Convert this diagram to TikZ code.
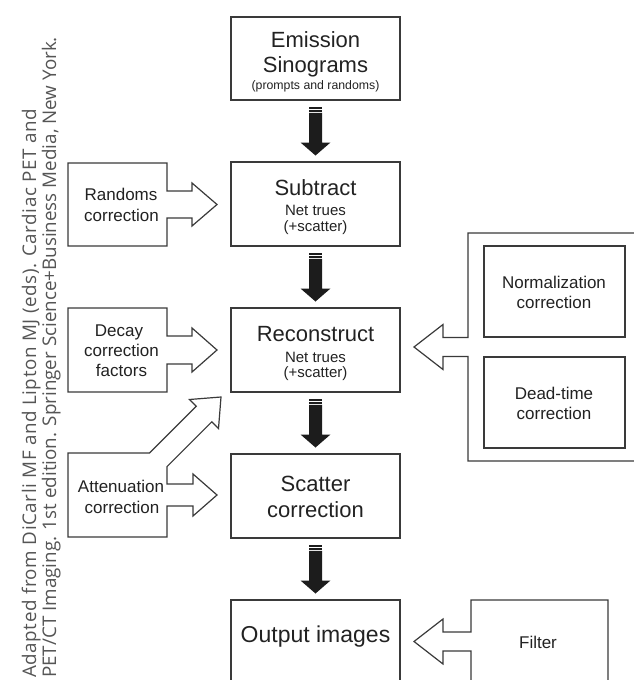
\documentclass[tikz,border=0pt]{standalone}
\usepackage{fontspec}
\setmainfont{Liberation Sans}
\newfontfamily\creditfont{Open Sans}
\newfontfamily\creditwide{Open Sans}[LetterSpace=3]
\usetikzlibrary{calc}

\definecolor{linegray}{HTML}{3A3A3A}
\definecolor{textgray}{HTML}{222222}
\definecolor{arrowblack}{HTML}{1C1C1C}
\definecolor{creditgray}{HTML}{555555}

\tikzset{
  box/.style={draw=linegray, line width=1.2pt, inner sep=0pt, outer sep=0pt,
              minimum width=169pt, minimum height=84pt},
  ghost/.style={inner sep=0pt, outer sep=0pt},
  outl/.style={draw=linegray, line width=1.2pt, line join=miter, fill=white},
  big/.style={font=\fontsize{22}{26}\selectfont, text=textgray, inner sep=0pt, anchor=base},
  huge/.style={font=\fontsize{23}{27}\selectfont, text=textgray, inner sep=0pt, anchor=base},
  mid/.style={font=\fontsize{15}{18}\selectfont, text=textgray, inner sep=0pt, anchor=base},
  sml/.style={font=\fontsize{12.3}{15}\selectfont, text=textgray, inner sep=0pt, anchor=base},
  side/.style={font=\fontsize{17}{20}\selectfont, text=textgray, inner sep=0pt, anchor=base},
  credit/.style={font=\creditfont\fontsize{18.8}{20}\selectfont, text=creditgray,
                 inner sep=0pt, anchor=base west, rotate=90},
}

% solid black arrow with a striped tail, from the bottom of #1 to the top of #2
\newcommand\blkarrow[2]{%
  \path (#1.south) ++(0,6.5) coordinate (#1-tail);
  \path (#2.north) ++(0,-6.5) coordinate (#2-tip);
  \fill[arrowblack] ($(#1-tail)+(-6.5,0)$) rectangle ($(#1-tail)+(6.5,2.2)$);
  \fill[arrowblack] ($(#1-tail)+(-6.5,3.3)$) rectangle ($(#1-tail)+(6.5,5.4)$);
  \fill[arrowblack] ($(#1-tail)+(-6.5,6.4)$) -- ($(#2-tip)+(-6.5,-13)$)
     -- ($(#2-tip)+(-15,-13)$) -- (#2-tip) -- ($(#2-tip)+(15,-13)$)
     -- ($(#2-tip)+(6.5,-13)$) -- ($(#1-tail)+(6.5,6.4)$) -- cycle;
}

\begin{document}
\begin{tikzpicture}[x=1pt,y=-1pt]
\useasboundingbox (0,0) rectangle (634,680);
\clip (0,0) rectangle (634,680);

% main processing column
\node[box, minimum height=83pt] (emis) at (315.5,58.5) {};
\node[box] (subt) at (315.5,204) {};
\node[box] (reco) at (315.5,350) {};
\node[box] (scat) at (315.5,496) {};
\node[box] (outp) at (315.5,642) {};

% left-hand correction inputs (outlines drawn together with their arrows)
\node[ghost, minimum width=99pt, minimum height=83pt] (rand) at (117.5,204.5) {};
\node[ghost, minimum width=99pt, minimum height=84pt] (deca) at (117.5,350) {};
\node[ghost, minimum width=99pt, minimum height=84pt] (atte) at (117.5,495) {};

% right-hand group and filter
\node[ghost, minimum width=172pt, minimum height=228pt] (grp) at (554,347) {};
\node[ghost, minimum width=137pt, minimum height=100pt] (filt) at (539.5,650) {};

% Randoms correction -> Subtract
\draw[outl] (rand.north east) -- (rand.north west) -- (rand.south west) -- (rand.south east)
  -- ($(rand.east)+(0,13.5)$) -- ++(25,0) -- ++(0,8) -- ($(rand.east)+(50,0)$)
  -- ($(rand.east)+(25,-21.5)$) -- ++(0,8) -- ($(rand.east)+(0,-13.5)$) -- cycle;

% Decay correction factors -> Reconstruct
\draw[outl] (deca.north east) -- (deca.north west) -- (deca.south west) -- (deca.south east)
  -- ($(deca.east)+(0,14)$) -- ++(25,0) -- ++(0,8) -- ($(deca.east)+(50,0)$)
  -- ($(deca.east)+(25,-22)$) -- ++(0,8) -- ($(deca.east)+(0,-14)$) -- cycle;

% Attenuation correction -> Reconstruct (diagonal) and -> Scatter correction
\draw[outl] (atte.north west) -- ($(atte.north east)+(-17.6,0)$)
  -- ($(atte.north east)+(29.2,-46.8)$) -- ($(atte.north east)+(22.5,-53.5)$)
  -- ($(atte.north east)+(54,-56)$) -- ($(atte.north east)+(51.5,-24.5)$)
  -- ($(atte.north east)+(44.8,-31.2)$) -- ($(atte.north east)+(0,13.6)$)
  -- ($(atte.east)+(0,-11)$) -- ++(26,0) -- ++(0,-10) -- ($(atte.east)+(50,0)$)
  -- ($(atte.east)+(26,21)$) -- ++(0,-10) -- ($(atte.east)+(0,11)$)
  -- (atte.south east) -- (atte.south west) -- cycle;

% normalization / dead-time group -> Reconstruct
\draw[outl] ($(grp.north east)+(10,0)$) -- (grp.north west) -- ($(grp.west)+(0,-9.5)$)
  -- ++(-25,0) -- ++(0,-13) -- ($(grp.west)+(-54,0)$) -- ($(grp.west)+(-25,22.5)$)
  -- ++(0,-13) -- ($(grp.west)+(0,9.5)$) -- (grp.south west) -- ($(grp.south east)+(10,0)$);
\node[draw=linegray, line width=1.2pt, inner sep=0pt, minimum width=141pt, minimum height=91pt]
  (norm) at (554.5,291.5) {};
\node[draw=linegray, line width=1.2pt, inner sep=0pt, minimum width=141pt, minimum height=91pt]
  (dead) at (554.5,402.5) {};

% Filter -> Output images
\draw[outl] (filt.south west) -- ($(filt.north west)+(0,51)$) -- ++(-28,0) -- ++(0,13)
  -- ($(filt.north west)+(-57,41.5)$) -- ($(filt.north west)+(-28,19)$) -- ++(0,13)
  -- ($(filt.north west)+(0,32)$) -- (filt.north west) -- (filt.north east) -- (filt.south east);

% flow arrows down the main column
\blkarrow{emis}{subt}
\blkarrow{subt}{reco}
\blkarrow{reco}{scat}
\blkarrow{scat}{outp}

% labels
\node[big] (l-emis1) at (315.5,47.5) {Emission};
\node[big] (l-emis2) at (315.5,72.5) {Sinograms};
\node[sml] (l-emis3) at (315.5,89) {(prompts and randoms)};

\node[big] (l-subt1) at (315.5,195) {Subtract};
\node[mid] (l-subt2) at (315.5,215.3) {Net trues};
\node[mid] (l-subt3) at (315.5,231) {(+scatter)};

\node[big] (l-reco1) at (315.5,341.3) {Reconstruct};
\node[mid] (l-reco2) at (315.5,362.7) {Net trues};
\node[mid] (l-reco3) at (315.5,377.7) {(+scatter)};

\node[big] (l-scat1) at (315.5,491.7) {Scatter};
\node[big] (l-scat2) at (315.5,517) {correction};

\node[huge] (l-outp) at (315.5,642.7) {Output images};

\node[side] (l-rand1) at (121,200.7) {Randoms};
\node[side] (l-rand2) at (121.5,221) {correction};
\node[side] (l-deca1) at (119,336.7) {Decay};
\node[side] (l-deca2) at (121.5,356.7) {correction};
\node[side] (l-deca3) at (121.5,376.7) {factors};
\node[side] (l-atte1) at (121,492.7) {Attenuation};
\node[side] (l-atte2) at (122,513.3) {correction};

\node[side] (l-norm1) at (554,288.3) {Normalization};
\node[side] (l-norm2) at (554,308.3) {correction};
\node[side] (l-dead1) at (554,399.3) {Dead-time};
\node[side] (l-dead2) at (554,419.3) {correction};
\node[side] (l-filt) at (538,648.3) {Filter};

% source credit along the left margin
\node[credit, font=\creditwide\fontsize{18.8}{20}\selectfont] (cred1) at (36,678)
  {Adapted from DiCarli MF and Lipton MJ (eds). Cardiac PET and};
\node[credit] (cred2) at (56,678)
  {PET/CT Imaging. 1st edition. Springer Science+Business Media, New York.};
\end{tikzpicture}
\end{document}
